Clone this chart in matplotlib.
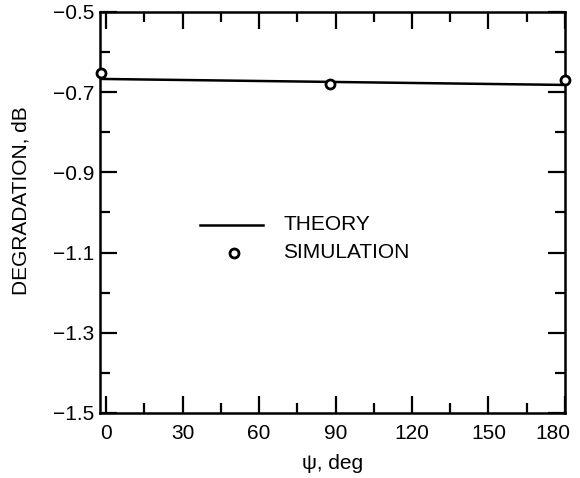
import matplotlib
matplotlib.use("Agg")
import matplotlib.pyplot as plt
from matplotlib.ticker import MultipleLocator
from matplotlib.transforms import ScaledTranslation

plt.rcParams['font.family'] = ['Liberation Sans', 'DejaVu Sans']

# Theory curve (degradation vs. phase angle)
theory_psi = [-2.5, 180]
theory_db = [-0.667, -0.682]

# Simulation results
sim_psi = [-2, 88, 180]
sim_db = [-0.652, -0.68, -0.67]

x_ticks = [0, 30, 60, 90, 120, 150, 180]
y_ticks = [-0.5, -0.7, -0.9, -1.1, -1.3, -1.5]

FS = 15

fig = plt.figure(figsize=(5.8, 4.78), dpi=100)
ax = fig.add_axes([0.172, 0.136, 0.802, 0.839])

ax.plot(theory_psi, theory_db, color='black', lw=1.8, zorder=2)
ax.plot(sim_psi, sim_db, linestyle='none', marker='o', ms=6.5, mfc='white',
        mec='black', mew=2.0, zorder=3, clip_on=False)

ax.set_xlim(-2.5, 180)
ax.set_ylim(-1.5, -0.5)
ax.set_xticks(x_ticks)
ax.set_yticks(y_ticks)
ax.xaxis.set_minor_locator(MultipleLocator(15))
ax.yaxis.set_minor_locator(MultipleLocator(0.1))
ax.set_yticklabels([f"\u2212{abs(v):.1f}" for v in y_ticks])

for s in ax.spines.values():
    s.set_linewidth(1.8)

ax.tick_params(which='both', direction='in', top=True, right=True,
               width=1.6, labelsize=FS, colors='black')
ax.tick_params(which='major', length=12)
ax.tick_params(which='minor', length=7)
ax.tick_params(axis='x', which='major', pad=8)
ax.tick_params(axis='y', which='major', pad=4)

# Pull the last x label in so it sits inside the frame edge
last = ax.get_xticklabels()[-1]
last.set_transform(last.get_transform() +
                   ScaledTranslation(-0.12, 0, fig.dpi_scale_trans))

ax.set_ylabel('DEGRADATION, dB', fontsize=FS)
ax.yaxis.set_label_coords(-0.148, 0.529)
ax.set_xlabel('\u03c8, deg', fontsize=FS, labelpad=8)

# Key drawn inside the plot area
ax.plot([37, 61.5], [-1.031, -1.031], color='black', lw=1.8)
ax.text(69.5, -1.031, 'THEORY', fontsize=FS, va='center', ha='left')
ax.plot([50], [-1.101], linestyle='none', marker='o', ms=6.5, mfc='white',
        mec='black', mew=2.0)
ax.text(69.5, -1.101, 'SIMULATION', fontsize=FS, va='center', ha='left')

fig.savefig('out.png', dpi=100)
